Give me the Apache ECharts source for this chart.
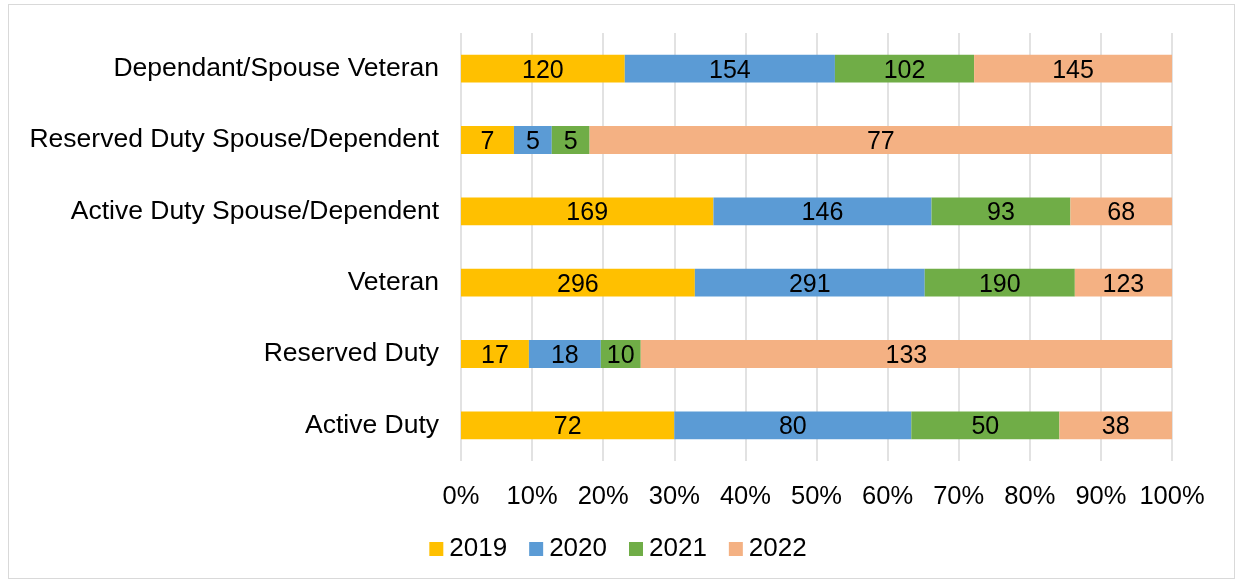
<!DOCTYPE html>
<html>
<head>
<meta charset="utf-8">
<script src="https://cdn.jsdelivr.net/npm/echarts@6/dist/echarts.min.js"></script>
<style>
  html, body { margin: 0; padding: 0; background: #fff; }
  #chart { width: 1236px; height: 581px; }
  #frame { position: absolute; left: 8px; top: 4px; width: 1225px; height: 573px; border: 1px solid #d9d9d9; pointer-events: none; }
</style>
</head>
<body>
<div id="chart"></div>
<div id="frame"></div>
<script>
// categories bottom -> top
let categories = ['Active Duty', 'Reserved Duty', 'Veteran', 'Active Duty Spouse/Dependent',
	'Reserved Duty Spouse/Dependent', 'Dependant/Spouse Veteran'];
let years = ['2019', '2020', '2021', '2022'];
let v2019 = [72, 17, 296, 169, 7, 120];
let v2020 = [80, 18, 291, 146, 5, 154];
let v2021 = [50, 10, 190, 93, 5, 102];
let v2022 = [38, 133, 123, 68, 77, 145];
let colors = ['#FFC000', '#5B9BD5', '#70AD47', '#F4B183'];

let raw = [v2019, v2020, v2021, v2022];
let totals = categories.map((c, i) => raw.reduce((s, arr) => s + arr[i], 0));

let font = 'Liberation Sans, Arial, sans-serif';

let series = raw.map(function (arr, k) {
	return {
		name: years[k],
		type: 'bar',
		stack: 'all',
		barWidth: '39%',
		itemStyle: { color: colors[k] },
		label: {
			show: true,
			position: 'inside',
			color: '#000',
			fontFamily: font,
			fontSize: 25,
			offset: [0, 2],
			formatter: function (p) { return arr[p.dataIndex]; }
		},
		data: arr.map((v, i) => v / totals[i] * 100)
	};
});

let option = {
	animation: false,
	color: colors,
	grid: { left: 461, right: 64, top: 33, bottom: 120, containLabel: false },
	legend: {
		top: 531,
		left: 'center',
		itemWidth: 14,
		itemHeight: 14,
		itemGap: 22,
		icon: 'rect',
		textStyle: { fontFamily: font, fontSize: 26, color: '#000', padding: [0, 0, 0, 1] },
		data: years
	},
	xAxis: {
		type: 'value',
		min: 0,
		max: 100,
		interval: 10,
		axisLine: { show: false },
		axisTick: { show: false },
		splitLine: { lineStyle: { color: '#d9d9d9', width: 1.5 } },
		axisLabel: {
			formatter: '{value}%',
			fontFamily: font,
			fontSize: 25.5,
			color: '#000',
			margin: 23
		}
	},
	yAxis: {
		type: 'category',
		data: categories,
		axisLine: { show: false },
		axisTick: { show: false },
		axisLabel: { fontFamily: font, fontSize: 26.5, color: '#000', margin: 22, padding: [4, 0, 0, 0] }
	},
	series: series
};

let chart = echarts.init(document.getElementById('chart'));
chart.setOption(option);
</script>
</body>
</html>
